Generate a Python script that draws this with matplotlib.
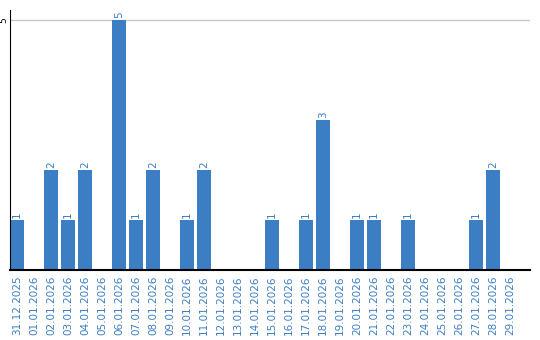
import matplotlib
matplotlib.use("Agg")
import matplotlib.pyplot as plt

dates = ["31.12.2025"] + ["%02d.01.2026" % d for d in range(1, 30)]
values = [1, 0, 2, 1, 2, 0, 5, 1, 2, 0, 1, 2, 0, 0, 0, 1, 0, 1, 3, 0,
          1, 1, 0, 1, 0, 0, 0, 1, 2, 0]

blue = "#3c7ec4"
fig = plt.figure(figsize=(5.4, 3.4), dpi=100)
ax = fig.add_axes([10/540, 1-270/340, 520/540, 260/340])
x = list(range(len(dates)))
ax.bar(x, values, width=14/17, color=blue, zorder=2)
for xi, v in zip(x, values):
    if v > 0:
        ax.text(xi, v + 0.04, str(v), rotation=90, ha="center", va="bottom",
                fontsize=7.5, color=blue)
ax.set_xlim(-7/17, 30.18)
ax.set_ylim(0, 5.2)
ax.set_yticks([5])
ax.set_yticklabels(["5"], rotation=90, va="center", fontsize=6.5)
ax.tick_params(axis="y", length=0, pad=1)
ax.set_xticks(x)
ax.set_xticklabels(dates, rotation=90, fontsize=7.5, color=blue)
ax.tick_params(axis="x", length=0, pad=4)
ax.grid(axis="y", color="#c8c8c8", linewidth=1, zorder=0)
for s in ["top", "right"]:
    ax.spines[s].set_visible(False)
ax.spines["left"].set_color("black")
ax.spines["bottom"].set_color("black")
ax.spines["bottom"].set_linewidth(1.5)
fig.savefig("out.png", dpi=100)
